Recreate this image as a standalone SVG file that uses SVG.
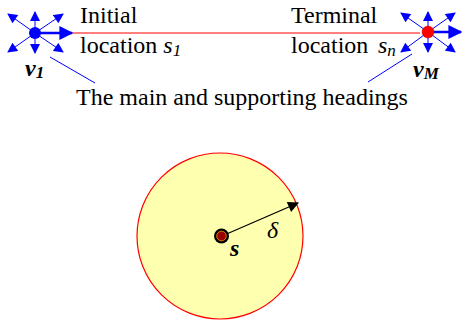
<svg xmlns="http://www.w3.org/2000/svg" width="462" height="327" viewBox="0 0 462 327">
<style>
.t{font-family:"Liberation Serif",serif;font-size:24px;fill:#000}
.i{font-style:italic}
.b{font-weight:bold;font-style:italic}
.thin{stroke:#0000ff;stroke-width:1;fill:none}
.main{stroke:#0000ff;stroke-width:2.5;fill:none}
</style>
<defs>
<marker id="ab" viewBox="0 0 10 10" refX="9" refY="5" markerWidth="11" markerHeight="10" markerUnits="userSpaceOnUse" orient="auto">
<path d="M0,0 L10,5 L0,10 Z" fill="#0000ff"/>
</marker>
<marker id="abig" viewBox="0 0 10 10" refX="9" refY="5" markerWidth="16" markerHeight="14" markerUnits="userSpaceOnUse" orient="auto">
<path d="M0,0 L10,5 L0,10 Z" fill="#0000ff"/>
</marker>
<marker id="ak" viewBox="0 0 10 10" refX="9" refY="5" markerWidth="15" markerHeight="11" markerUnits="userSpaceOnUse" orient="auto">
<path d="M0,0 L10,5 L0,10 Z" fill="#000"/>
</marker>
</defs>
<g id="region">
<circle cx="220" cy="236" r="83" fill="#ffffb0" stroke="#ff0000" stroke-width="1.2"/>
</g>
<g id="connectors">
<line x1="72" y1="33" x2="420" y2="33" stroke="#ff0000" stroke-width="1.2"/>
<line x1="50" y1="57" x2="95" y2="83" stroke="#0000ff" stroke-width="1"/>
<line x1="412" y1="54" x2="368" y2="82" stroke="#0000ff" stroke-width="1"/>
<line x1="222" y1="236" x2="298" y2="203" stroke="#000" stroke-width="1.3" marker-end="url(#ak)"/>
</g>
<g id="v1">
<line class="thin" x1="35" y1="33" x2="35" y2="12" marker-end="url(#ab)"/>
<line class="thin" x1="35" y1="33" x2="35" y2="53" marker-end="url(#ab)"/>
<line class="thin" x1="35" y1="33" x2="8" y2="14" marker-end="url(#ab)"/>
<line class="thin" x1="35" y1="33" x2="63" y2="14" marker-end="url(#ab)"/>
<line class="thin" x1="35" y1="33" x2="8" y2="52" marker-end="url(#ab)"/>
<line class="thin" x1="35" y1="33" x2="63" y2="52" marker-end="url(#ab)"/>
<line class="main" x1="35" y1="33" x2="72" y2="33" marker-end="url(#abig)"/>
<circle cx="35" cy="33" r="6" fill="#0000ff"/>
<text class="t b" x="25" y="76">v<tspan font-size="17" dy="2">1</tspan></text>
</g>
<g id="vM">
<line class="thin" x1="428" y1="32" x2="428" y2="12" marker-end="url(#ab)"/>
<line class="thin" x1="428" y1="32" x2="428" y2="52" marker-end="url(#ab)"/>
<line class="thin" x1="428" y1="32" x2="401" y2="13" marker-end="url(#ab)"/>
<line class="thin" x1="428" y1="32" x2="455" y2="13" marker-end="url(#ab)"/>
<line class="thin" x1="428" y1="32" x2="401" y2="52" marker-end="url(#ab)"/>
<line class="thin" x1="428" y1="32" x2="455" y2="52" marker-end="url(#ab)"/>
<line class="main" x1="428" y1="32" x2="461" y2="32" marker-end="url(#abig)"/>
<circle cx="428" cy="32" r="6" fill="#ff0000" stroke="#cc0000" stroke-width="0.5"/>
<text class="t b" x="413" y="77">v<tspan font-size="17" dy="2">M</tspan></text>
</g>
<g id="labels">
<text class="t" x="80" y="23">Initial</text>
<text class="t" x="80" y="53">location <tspan class="i">s</tspan><tspan class="i" font-size="17" dy="3">1</tspan></text>
<text class="t" x="291" y="23">Terminal</text>
<text class="t" x="291" y="53">location</text>
<text class="t i" x="378" y="53">s<tspan font-size="17" dy="3">n</tspan></text>
<text class="t" x="76" y="105">The main and supporting headings</text>
</g>
<g id="s">
<circle cx="221.5" cy="236" r="7.5" fill="#000"/>
<circle cx="221.5" cy="236" r="4.8" fill="#990000" stroke="#ff9900" stroke-width="0.8"/>
<text class="t b" x="230" y="256">s</text>
<text class="t i" x="267" y="238">δ</text>
</g>
</svg>
